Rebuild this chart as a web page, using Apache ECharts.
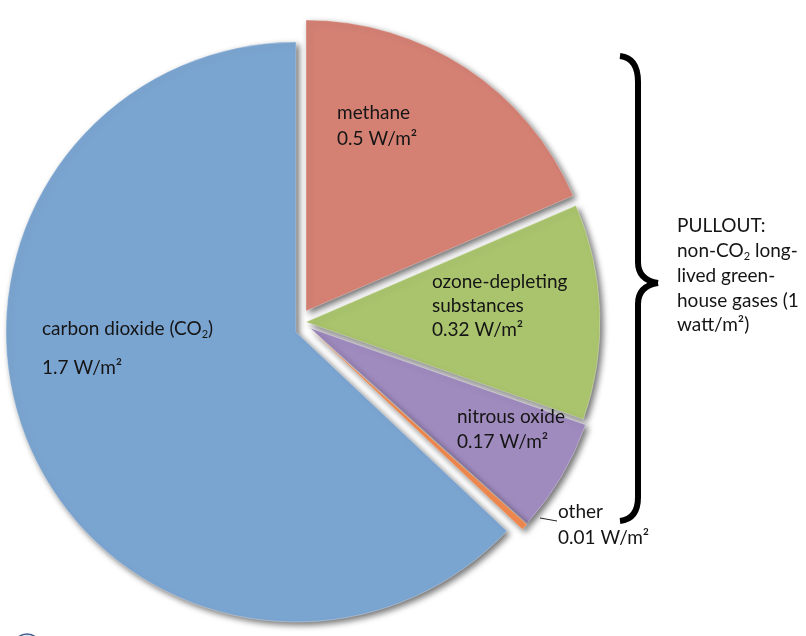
<!DOCTYPE html>
<html><head><meta charset="utf-8">
<script src="https://cdn.jsdelivr.net/npm/echarts@6/dist/echarts.min.js"></script>
<style>html,body{margin:0;padding:0;background:#fff}#c{width:806px;height:636px}</style>
</head><body><div id="c"></div>
<script>
// ---- data ----
const categories = ['methane', 'ozone-depleting substances', 'nitrous oxide', 'other', 'carbon dioxide (CO₂)'];
const values = [0.5, 0.32, 0.17, 0.01, 1.7];
const unit = 'W/m²';
const pulloutLines = ['PULLOUT:', 'non-CO₂ long-', 'lived green-', 'house gases (1', 'watt/m²)'];

// ---- styling / layout (not data) ----
const colors = ['#D48174', '#AAC46D', '#A08BBF', '#F08950', '#7BA5D1'];
const centers = [[306, 311], [306, 322], [310, 328], [310, 329], [296, 332]];
const radii = [291, 294, 292, 292, 290];
const labelLayout = [
  {lines: ['methane'], x: 337, y: 113, step: 26},
  {lines: ['ozone-depleting', 'substances'], x: 432, y: 282, step: 24},
  {lines: ['nitrous oxide'], x: 457, y: 417, step: 25},
  {lines: ['other'], x: 558, y: 512, step: 26},
  {lines: [categories[4]], x: 42, y: 329, step: 39}
];
const FONT = 'Lato';
const FS = 19;
const TXT = '#151515';

function rich(s) {
  return '{a|' + s.replace('₂', '}{s|2}{a|') + '}';
}
const richStyle = {
  a: {fontFamily: FONT, fontSize: FS, fill: TXT, color: TXT, lineHeight: 22},
  s: {fontFamily: FONT, fontSize: 11, fill: TXT, color: TXT, lineHeight: 10, verticalAlign: 'bottom'}
};

const series = values.map((_, k) => ({
  type: 'pie', silent: true, animation: false,
  startAngle: 90, clockwise: true,
  center: centers[k], radius: radii[k],
  label: {show: false}, labelLine: {show: false},
  emphasis: {disabled: true},
  z: k === 4 ? 1 : 2,
  data: categories.map((name, i) => ({
    name, value: values[i],
    itemStyle: i === k
      ? {color: colors[i], shadowColor: 'rgba(0,0,0,0.55)', shadowBlur: 6, shadowOffsetX: 3, shadowOffsetY: 3,
         borderColor: 'rgba(255,255,255,0.3)', borderWidth: 1}
      : {color: 'rgba(0,0,0,0)', borderWidth: 0, shadowBlur: 0}
  }))
}));

const graphics = [];
labelLayout.forEach((L, i) => {
  const lines = L.lines.concat([values[i] + ' ' + unit]);
  lines.forEach((t, j) => {
    graphics.push({
      type: 'text', silent: true, z: 10,
      style: {x: L.x, y: L.y + j * L.step, text: rich(t), rich: richStyle, verticalAlign: 'middle', align: 'left'}
    });
  });
});
graphics.push({type: 'line', silent: true, z: 10,
  shape: {x1: 540, y1: 518, x2: 557, y2: 521}, style: {stroke: '#222', lineWidth: 1}});
pulloutLines.forEach((t, j) => {
  graphics.push({type: 'text', silent: true, z: 10,
    style: {x: 677, y: 226 + j * 24.8, text: rich(t), rich: richStyle, verticalAlign: 'middle', align: 'left'}});
});
// curly brace made of curves and lines
const braceStyle = {fill: 'none', stroke: '#000', lineWidth: 6, lineCap: 'butt'};
const bc = (x1, y1, cx, cy, x2, y2) => ({type: 'bezierCurve', silent: true, z: 10,
  shape: {x1, y1, cpx1: cx, cpy1: cy, x2, y2}, style: braceStyle});
graphics.push(bc(620, 56, 638, 58, 638, 82));
graphics.push({type: 'line', silent: true, z: 10, shape: {x1: 638, y1: 81, x2: 638, y2: 263}, style: braceStyle});
graphics.push(bc(638, 262, 638, 280, 658, 283));
graphics.push(bc(658, 283, 638, 286, 638, 304));
graphics.push({type: 'line', silent: true, z: 10, shape: {x1: 638, y1: 303, x2: 638, y2: 498}, style: braceStyle});
graphics.push(bc(638, 497, 638, 519, 620, 521));
graphics.push({type: 'circle', silent: true, z: 10,
  shape: {cx: 27, cy: 648, r: 14}, style: {fill: '#d8e4f2', stroke: '#3f5f8a', lineWidth: 1.5}});

const chart = echarts.init(document.getElementById('c'), null, {renderer: 'canvas'});
chart.setOption({
  animation: false,
  backgroundColor: '#fff',
  series,
  graphic: {elements: graphics}
});
</script>
</body></html>
